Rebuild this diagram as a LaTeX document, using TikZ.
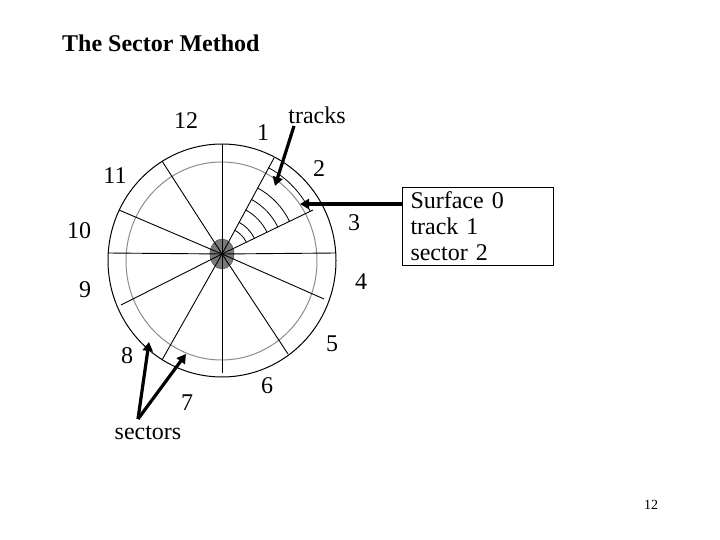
\documentclass[tikz,border=0pt]{standalone}
\usepackage{fontspec}
\setmainfont{Liberation Serif}
\usetikzlibrary{arrows.meta,calc,shapes.geometric}
\begin{document}
\begin{tikzpicture}[x=1pt,y=-1pt,
  lab/.style={inner sep=0pt,font=\fontsize{24}{26}\selectfont},
  disc/.style={draw=black,line width=1pt},
  spoke/.style={draw=black,line width=0.9pt},
  track/.style={draw=black,line width=0.8pt},
  fatarrow/.style={draw=black,line width=3.2pt,-{Triangle[length=9pt,width=10pt]}}]
\useasboundingbox (0,0) rectangle (720,540);
\fill[white] (0,0) rectangle (720,540);
\coordinate (C) at (222,254);
% disc
\draw[disc] (222,260.5) ellipse [x radius=114pt, y radius=116.5pt];
\draw[draw=gray!90,line width=1pt] (221.5,261) ellipse [x radius=95.5pt, y radius=99pt];
% hub
\node[ellipse,draw=black!65,line width=.6pt,fill=black!52,minimum width=24pt,minimum height=30pt,inner sep=0pt] (hub) at (C) {};
% spokes
\foreach \n/\p in {a/{222,144},b/{274,158},c/{313,210},d/{336,253},e/{324,299},f/{288,354},g/{222,373},h/{162,360},i/{121,305},j/{108,253},k/{119,210},l/{162,161}}{
  \coordinate (\n) at (\p);
  \draw[spoke] (C) -- (\n);
}
% track arcs
\foreach \r in {27,36,50,62,75,98}{
  \draw[track] ($(C)+(61.6:\r pt)$) arc [start angle=61.6, end angle=25.8, radius=\r pt];
}
% labels
\node[lab,anchor=west] (title) at (62,43) {\textbf{The Sector Method}};
\node[lab] (n12) at (186,121) {12};
\node[lab] (n1) at (263,133) {1};
\node[lab] (tracks) at (317,115) {tracks};
\node[lab] (n2) at (319,169) {2};
\node[lab] (n11) at (115,176) {11};
\node[lab] (n3) at (354,223) {3};
\node[lab] (n10) at (79,231) {10};
\node[lab] (n4) at (361,282) {4};
\node[lab] (n9) at (85,290) {9};
\node[lab] (n5) at (332,344) {5};
\node[lab] (n8) at (127,356) {8};
\node[lab] (n7) at (187,403) {7};
\node[lab] (n6) at (267,386) {6};
\node[lab] (sectors) at (148,433) {sectors};
\node[inner sep=0pt,font=\fontsize{14}{16}\selectfont] (page) at (651,505) {12};
% box
\node[draw=black,line width=1pt,minimum width=151pt,minimum height=78pt,inner sep=0pt,anchor=north west,align=left,text width=135pt,font=\fontsize{24}{26}\selectfont] (box) at (402,187) {Surface 0\\track 1\\sector 2};
% arrows
\coordinate (tA) at (294,126);
\coordinate (tB) at (275,186);
\coordinate (bA) at (box.west|-0,204);
\coordinate (bB) at (300,204);
\coordinate (sO) at (138,419);
\coordinate (sA) at (149,342);
\coordinate (sB) at (186,354);
\draw[fatarrow] (tA) -- (tB);
\draw[fatarrow,line width=4pt] (bA) -- (bB);
\draw[fatarrow] (sO) -- (sA);
\draw[fatarrow] (sO) -- (sB);
\end{tikzpicture}
\end{document}
